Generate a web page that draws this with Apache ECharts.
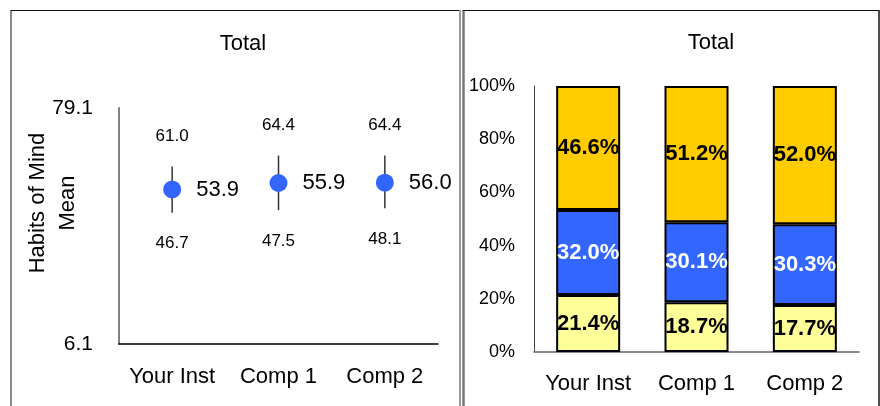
<!DOCTYPE html>
<html>
<head>
<meta charset="utf-8">
<script src="https://cdn.jsdelivr.net/npm/echarts@6/dist/echarts.min.js"></script>
<style>
html, body { margin: 0; padding: 0; background: #fff; }
#chart { width: 880px; height: 406px; }
</style>
</head>
<body>
<div id="chart"></div>
<script>
// left panel: means with error range
const categories = ['Your Inst', 'Comp 1', 'Comp 2'];
const means = [53.9, 55.9, 56.0];
const upper = [61.0, 64.4, 64.4];
const lower = [46.7, 47.5, 48.1];
const meanTicks = [6.1, 79.1];

// right panel: stacked percentages
const lowPct = [21.4, 18.7, 17.7];
const midPct = [32.0, 30.1, 30.3];
const highPct = [46.6, 51.2, 52.0];

const FONT = '"Liberation Sans Narrow", "Liberation Sans", Arial, sans-serif';

let chart = echarts.init(document.getElementById('chart'));

let barLabel = (color) => ({
    show: true,
    position: 'inside',
    color: color,
    fontFamily: FONT,
    fontSize: 22,
    fontWeight: 'bold',
    formatter: p => p.value.toFixed(1) + '%'
});

let option = {
    animation: false,
    backgroundColor: '#fff',
    textStyle: { fontFamily: FONT, color: '#000' },
    graphic: [
        // panel frames
        { type: 'line', shape: { x1: 11, y1: 10, x2: 11, y2: 406 }, style: { stroke: '#888', lineWidth: 2 } },
        { type: 'line', shape: { x1: 11, y1: 10.5, x2: 460, y2: 10.5 }, style: { stroke: '#111', lineWidth: 1.2 } },
        { type: 'line', shape: { x1: 460, y1: 10, x2: 460, y2: 406 }, style: { stroke: '#999', lineWidth: 2 } },
        { type: 'line', shape: { x1: 463.5, y1: 10, x2: 463.5, y2: 406 }, style: { stroke: '#777', lineWidth: 2.5 } },
        { type: 'line', shape: { x1: 463, y1: 10.5, x2: 879, y2: 10.5 }, style: { stroke: '#111', lineWidth: 1.2 } },
        { type: 'line', shape: { x1: 879, y1: 10, x2: 879, y2: 406 }, style: { stroke: '#111', lineWidth: 1.5 } },
        // titles
        { type: 'text', x: 243, y: 44, style: { text: 'Total', font: '22px ' + FONT, fill: '#000', align: 'center', verticalAlign: 'middle' } },
        { type: 'text', x: 711, y: 43, style: { text: 'Total', font: '22px ' + FONT, fill: '#000', align: 'center', verticalAlign: 'middle' } },
        // y axis name
        { type: 'text', x: 53, y: 203, rotation: Math.PI / 2,
          style: { text: 'Habits of Mind\nMean', font: '22px ' + FONT, lineHeight: 30, fill: '#000', align: 'center', verticalAlign: 'middle' } }
    ],
    grid: [
        { left: 119, right: 442, top: 108, bottom: 62 },
        { left: 534, right: 21, top: 86, bottom: 54 }
    ],
    xAxis: [
        {
            gridIndex: 0,
            type: 'category',
            data: categories,
            axisLine: { lineStyle: { color: '#000', width: 1.5 } },
            axisTick: { show: false },
            axisLabel: { interval: 0, fontSize: 22, color: '#000', margin: 22 }
        },
        {
            gridIndex: 1,
            type: 'category',
            data: categories,
            axisLine: { lineStyle: { color: '#666', width: 1.5 } },
            axisTick: { show: false },
            axisLabel: { interval: 0, fontSize: 22, color: '#000', margin: 21 }
        }
    ],
    yAxis: [
        {
            gridIndex: 0,
            type: 'value',
            min: meanTicks[0],
            max: meanTicks[1],
            axisLine: { show: true, lineStyle: { color: '#808080', width: 2 } },
            axisTick: { show: false },
            splitLine: { show: false },
            axisLabel: {
                customValues: meanTicks,
                fontSize: 21,
                color: '#000',
                margin: 26,
                formatter: v => v.toFixed(1)
            }
        },
        {
            gridIndex: 1,
            type: 'value',
            min: 0,
            max: 100,
            interval: 20,
            axisLine: { show: true, lineStyle: { color: '#444', width: 1 } },
            axisTick: { show: false },
            splitLine: { show: false },
            axisLabel: { fontSize: 18, color: '#000', margin: 19, formatter: '{value}%' }
        }
    ],
    series: [
        {
            type: 'custom',
            xAxisIndex: 0,
            yAxisIndex: 0,
            z: 1,
            data: categories.map((c, i) => [i, upper[i], lower[i]]),
            renderItem: (params, api) => {
                let hi = api.coord([api.value(0), api.value(1)]);
                let lo = api.coord([api.value(0), api.value(2)]);
                let font = '17px ' + FONT;
                return {
                    type: 'group',
                    children: [
                        { type: 'line', shape: { x1: hi[0], y1: hi[1], x2: lo[0], y2: lo[1] }, style: { stroke: '#333', lineWidth: 1.5 } },
                        { type: 'text', x: hi[0], y: hi[1] - 30, style: { text: api.value(1).toFixed(1), font: font, fill: '#000', align: 'center', verticalAlign: 'middle' } },
                        { type: 'text', x: lo[0], y: lo[1] + 31, style: { text: api.value(2).toFixed(1), font: font, fill: '#000', align: 'center', verticalAlign: 'middle' } }
                    ]
                };
            }
        },
        {
            type: 'scatter',
            xAxisIndex: 0,
            yAxisIndex: 0,
            z: 3,
            symbolSize: 18,
            itemStyle: { color: '#3366ff', opacity: 1 },
            data: means,
            label: {
                show: true,
                position: 'right',
                distance: 15,
                fontSize: 22,
                color: '#000',
                formatter: p => p.value.toFixed(1)
            }
        },
        {
            type: 'bar',
            xAxisIndex: 1,
            yAxisIndex: 1,
            stack: 'pct',
            barWidth: 64,
            itemStyle: { color: '#ffff99', borderColor: '#000', borderWidth: 2 },
            label: barLabel('#000'),
            data: lowPct
        },
        {
            type: 'bar',
            xAxisIndex: 1,
            yAxisIndex: 1,
            stack: 'pct',
            barWidth: 64,
            itemStyle: { color: '#3366ff', borderColor: '#000', borderWidth: 2 },
            label: barLabel('#fff'),
            data: midPct
        },
        {
            type: 'bar',
            xAxisIndex: 1,
            yAxisIndex: 1,
            stack: 'pct',
            barWidth: 64,
            itemStyle: { color: '#ffcc00', borderColor: '#000', borderWidth: 2 },
            label: barLabel('#000'),
            data: highPct
        }
    ]
};

chart.setOption(option);
window.onresize = () => {
    chart.resize();
};
</script>
</body>
</html>
